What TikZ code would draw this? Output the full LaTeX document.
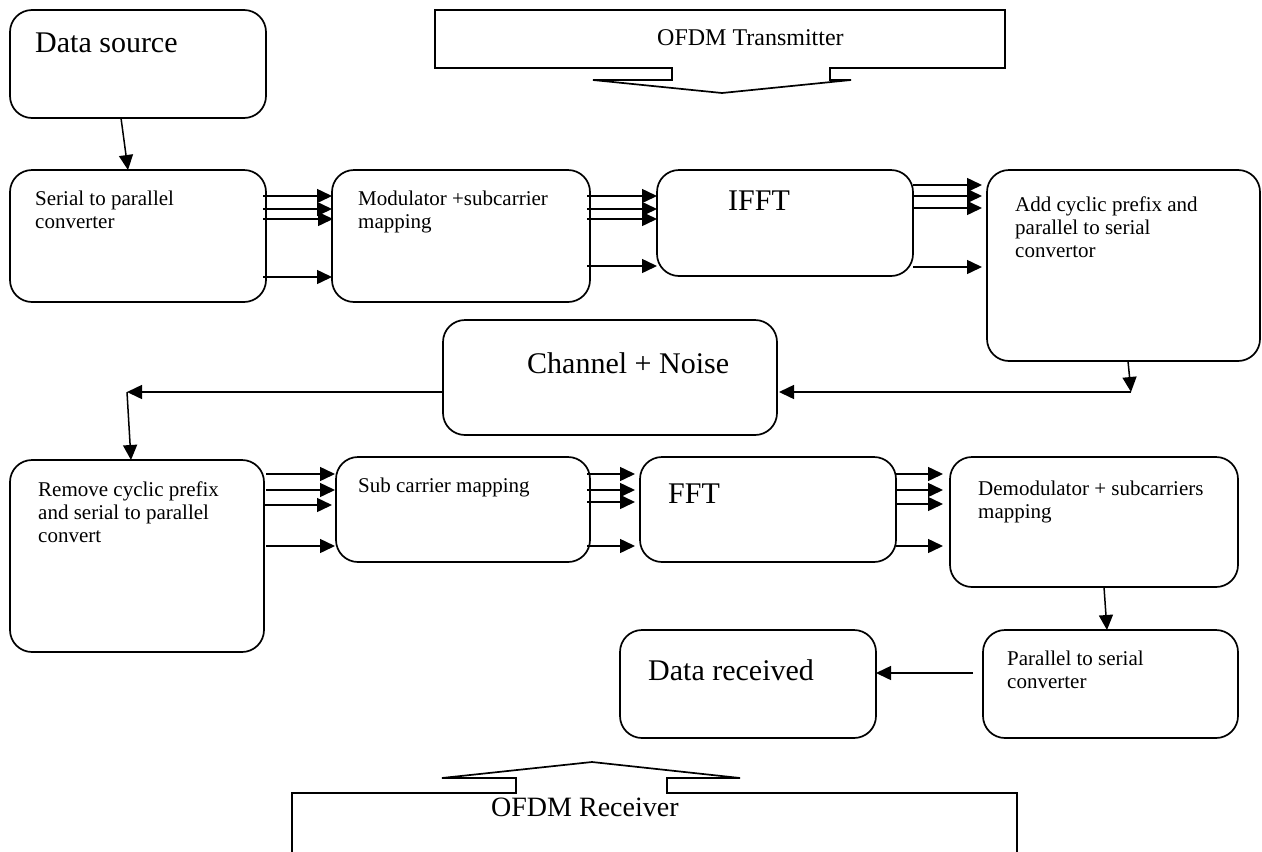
\documentclass[tikz,border=0pt]{standalone}
\usepackage{fontspec}
\setmainfont{Liberation Serif}
\usetikzlibrary{arrows.meta}
\newcommand\tlines[2]{\vtop{\hbox{#1}\hbox{#2}}}
\newcommand\thlines[3]{\vtop{\hbox{#1}\hbox{#2}\hbox{#3}}}
\begin{document}
\begin{tikzpicture}[x=1pt,y=-1pt,
  box/.style={draw, line width=1.7pt, rounded corners=22pt, inner sep=0pt, outer sep=0pt},
  arr/.style={line width=1.5pt, -{Triangle[length=15pt,width=14pt]}},
  small/.style={font=\fontsize{21}{23}\selectfont, inner sep=0pt, anchor=base west},
  big/.style={font=\fontsize{30}{34}\selectfont, inner sep=0pt, anchor=base west},
  callout/.style={inner sep=0pt, anchor=base west},
  cpath/.style={draw, line width=1.7pt, line join=miter}]
\useasboundingbox (0,0) rectangle (1262,852);
\clip (0,0) rectangle (1262,852);

% callouts
\draw[cpath] (435,10) -- (1005,10) -- (1005,68) -- (830,68) -- (830,80) -- (851,80)
  -- (722,93) -- (593,80) -- (672,80) -- (672,68) -- (435,68) -- cycle;
\node[callout, font=\fontsize{24}{28}\selectfont] (tx) at (657,45) {OFDM Transmitter};
\draw[cpath] (292,870) -- (292,793) -- (516,793) -- (516,778) -- (442,778) -- (592,762)
  -- (740,778) -- (667,778) -- (667,793) -- (1017,793) -- (1017,870);
\node[callout, font=\fontsize{28}{32}\selectfont] (rx) at (491,816) {OFDM Receiver};

% boxes
\node[box, minimum width=256pt, minimum height=108pt] (src) at (138,64) {};
\node[box, minimum width=256pt, minimum height=132pt] (ser) at (138,236) {};
\node[box, minimum width=258pt, minimum height=132pt] (mod) at (461,236) {};
\node[box, minimum width=256pt, minimum height=106pt] (ifft) at (785,223) {};
\node[box, minimum width=273pt, minimum height=191pt] (acp) at (1123.5,265.5) {};
\node[box, minimum width=334pt, minimum height=115pt] (chn) at (610,377.5) {};
\node[box, minimum width=254pt, minimum height=192pt] (rem) at (137,556) {};
\node[box, minimum width=254pt, minimum height=105pt] (sub) at (463,509.5) {};
\node[box, minimum width=256pt, minimum height=105pt] (fft) at (768,509.5) {};
\node[box, minimum width=288pt, minimum height=130pt] (dem) at (1094,522) {};
\node[box, minimum width=255pt, minimum height=108pt] (par) at (1110.5,684) {};
\node[box, minimum width=256pt, minimum height=108pt] (rcv) at (748,684) {};

% texts
\node[big] (srct) at (35,52) {Data source};
\node[small] (sert) at (35,205) {\tlines{Serial to parallel}{converter}};
\node[small] (modt) at (358,205) {\tlines{Modulator +subcarrier}{mapping}};
\node[big] (ifftt) at (728,210) {IFFT};
\node[small] (acpt) at (1015,211) {\thlines{Add cyclic prefix and}{parallel to serial}{convertor}};
\node[big] (chnt) at (527,373) {Channel + Noise};
\node[small] (remt) at (38,496) {\thlines{Remove cyclic prefix}{and serial to parallel}{convert}};
\node[small] (subt) at (358,492) {Sub carrier mapping};
\node[big] (fftt) at (668,503) {FFT};
\node[small] (demt) at (978,495) {\tlines{Demodulator + subcarriers}{mapping}};
\node[small] (part) at (1007,665) {\tlines{Parallel to serial}{converter}};
\node[big] (rcvt) at (648,680) {Data received};

% connectors
\draw[arr] ([xshift=-17pt]src.south) -- ([xshift=-10pt]ser.north);

\foreach \dy/\e in {26/0,39/0,49/1,107/0}
  \draw[arr] ([shift={(-3,\dy)}]ser.north east) -- ([shift={(\e,\dy)}]mod.north west);
\foreach \dy in {26,39,49,96}
  \draw[arr] ([shift={(-3,\dy)}]mod.north east) -- ([shift={(0,\dy)}]ifft.north west);
\foreach \dy in {15,26,38,97}
  \draw[arr] ([shift={(0,\dy)}]ifft.north east) -- ([shift={(-5,\dy)}]acp.north west);

\coordinate (k1) at (1131,392);
\coordinate (k2) at (127,392);
\draw[arr] ([xshift=4.5pt]acp.south) -- (k1);
\draw[arr] (k1) -- ([xshift=2pt]chn.east |- k1);
\draw[arr] (chn.west |- k2) -- (k2);
\draw[arr] (k2) -- ([xshift=-6pt]rem.north);

\foreach \s/\dy/\e/\f in {2/14/-1/17,2/30/-1/33,-1/45/-4/48,2/86/-1/89}
  \draw[arr] ([shift={(\s,\dy)}]rem.north east) -- ([shift={(\e,\f)}]sub.north west);
\foreach \dy in {17,33,45,89}
  \draw[arr] ([shift={(-3,\dy)}]sub.north east) -- ([shift={(-5,\dy)}]fft.north west);
\foreach \dy in {17,33,47,89}
  \draw[arr] ([shift={(0,\dy)}]fft.north east) -- ([shift={(-7,\dy)}]dem.north west);

\draw[arr] ([xshift=10pt]dem.south) -- ([xshift=-3.5pt]par.north);
\draw[arr] ([shift={(-10,-11)}]par.west) -- ([shift={(0,-11)}]rcv.east);
\end{tikzpicture}
\end{document}
